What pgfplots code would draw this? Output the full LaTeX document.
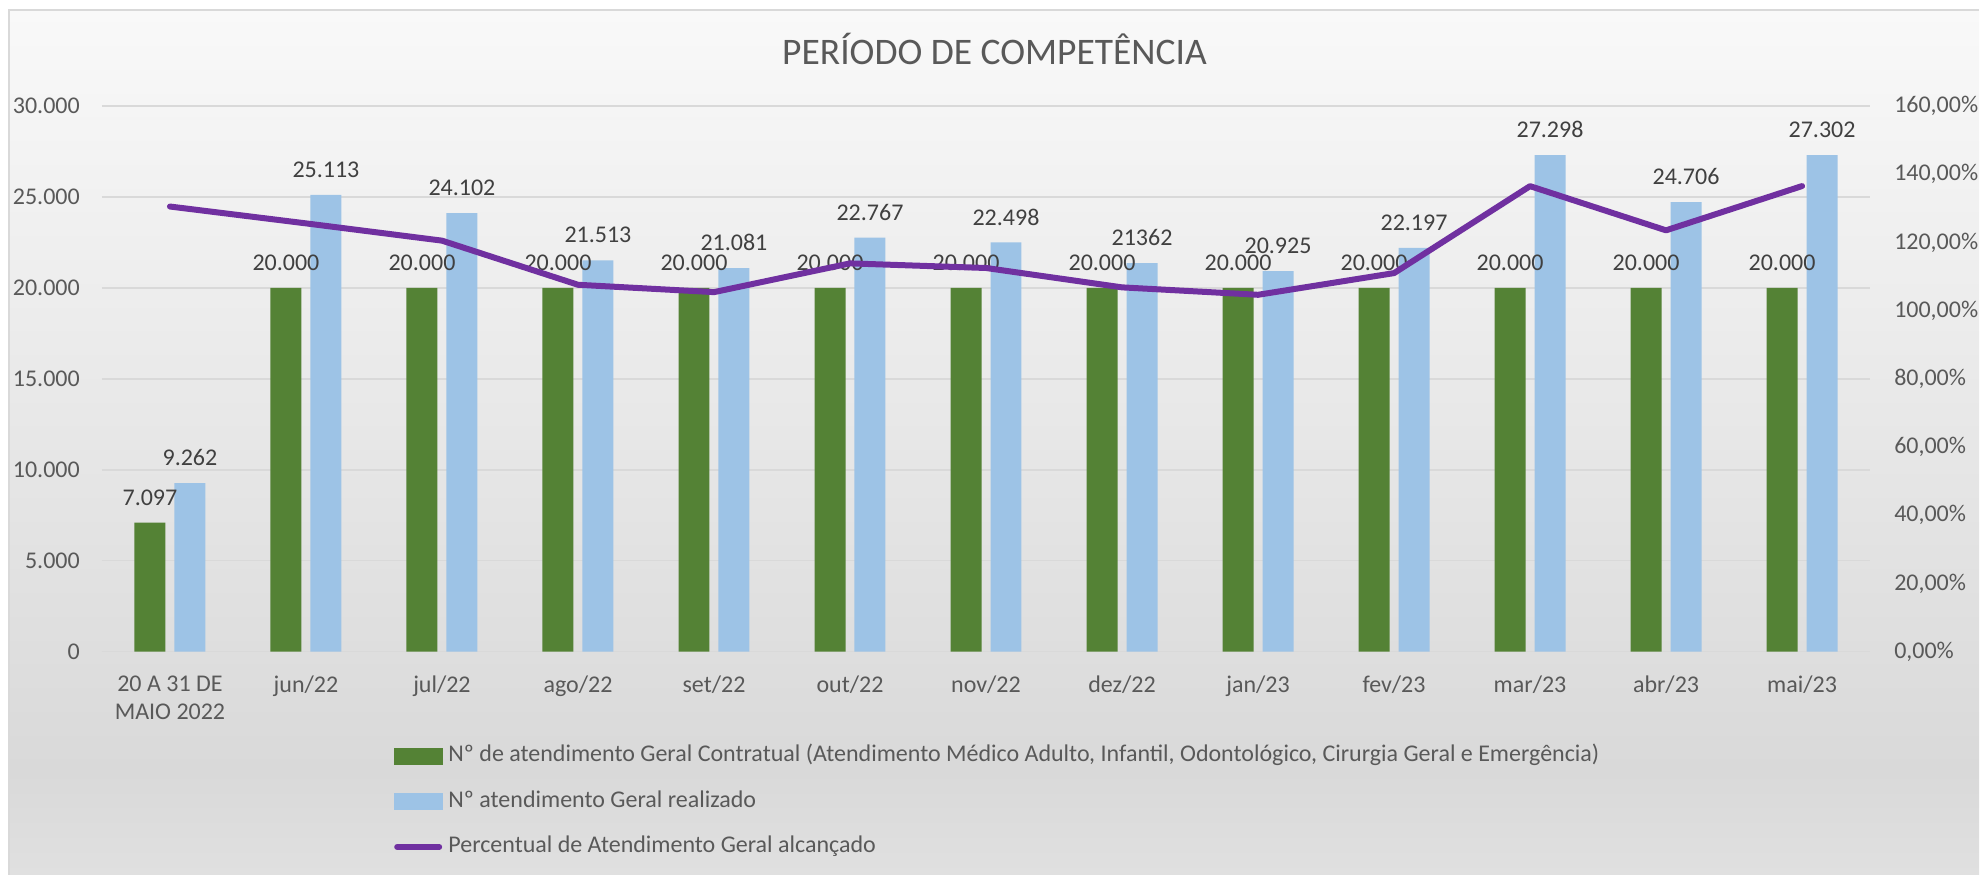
\documentclass[border=0pt]{standalone}
\usepackage{fontspec}
\setmainfont{Carlito}
\usepackage{pgfplots}
\pgfplotsset{compat=1.18}
\definecolor{cgreen}{HTML}{548235}
\definecolor{cblue}{HTML}{9DC3E6}
\definecolor{cpurple}{HTML}{7030A0}
\definecolor{ctext}{HTML}{595959}
\definecolor{clabel}{HTML}{404040}
\definecolor{cgrid}{HTML}{D9D9D9}
\definecolor{bgtop}{HTML}{F9F9F9}
\definecolor{bgmid}{HTML}{D9D9D9}
\definecolor{bgbot}{HTML}{E0E0E0}
\pgfdeclareverticalshading{bgshade}{100bp}{color(0bp)=(bgbot); color(25bp)=(bgbot); color(31bp)=(bgmid); color(75bp)=(bgtop); color(100bp)=(bgtop)}
\newcommand\fs{\fontsize{24}{28}\selectfont}
\begin{document}
\begin{tikzpicture}[x=1pt,y=1pt]
\path (0,0) rectangle (1980,875);
\shade[shading=bgshade] (9,0) rectangle (1980,865);
\draw[cgrid, line width=2pt] (9,0) -- (9,865) -- (1980,865);
\node[anchor=base, font=\fontsize{37.5}{44}\selectfont, text=ctext, inner sep=0pt] at (995,810) {PERÍODO DE COMPETÊNCIA};

\begin{axis}[at={(102pt,223pt)}, anchor=south west, scale only axis,
  width=1769pt, height=546pt,
  xmin=-0.5, xmax=12.5, ymin=0, ymax=30000,
  ybar=9pt, bar width=31pt, clip=false,
  axis line style={draw=none}, major tick length=0pt,
  ytick={0,5000,...,30000}, ymajorgrids, grid style={cgrid, line width=1.5pt},
  scaled y ticks=false,
  xtick={0,...,12},
  xticklabels={{20 A 31 DE\\MAIO 2022},jun/22,jul/22,ago/22,set/22,out/22,nov/22,dez/22,jan/23,fev/23,mar/23,abr/23,mai/23},
  xticklabel style={align=center, font=\fs, text=ctext, anchor=north, inner sep=0pt, yshift=-24pt,
    execute at begin node={\rule{0pt}{17pt}}},
  yticklabel style={font=\fs, text=ctext, anchor=east, inner sep=0pt, xshift=-22pt,
    /pgf/number format/1000 sep={.}, /pgf/number format/assume math mode=true},
  every node near coord/.append style={font=\fs, text=clabel, anchor=south, inner sep=0pt, yshift=17pt},
]
\addplot[fill=cgreen, draw=none, nodes near coords, point meta=explicit symbolic] table[meta=l] {
x y l
0 7097 7.097
1 20000 20.000
2 20000 20.000
3 20000 20.000
4 20000 20.000
5 20000 20.000
6 20000 20.000
7 20000 20.000
8 20000 20.000
9 20000 20.000
10 20000 20.000
11 20000 20.000
12 20000 20.000
};
\addplot[fill=cblue, draw=none, nodes near coords, point meta=explicit symbolic] table[meta=l] {
x y l
0 9262 9.262
1 25113 25.113
2 24102 24.102
3 21513 21.513
4 21081 21.081
5 22767 22.767
6 22498 22.498
7 21362 21362
8 20925 20.925
9 22197 22.197
10 27298 27.298
11 24706 24.706
12 27302 27.302
};
\end{axis}

\begin{axis}[at={(102pt,223pt)}, anchor=south west, scale only axis,
  width=1769pt, height=546pt,
  xmin=-0.5, xmax=12.5, ymin=0, ymax=160,
  axis x line=none, axis y line*=right, y axis line style={draw=none},
  major tick length=0pt, scaled y ticks=false,
  ytick={0,20,...,160},
  yticklabel={\pgfmathprintnumber[fixed,fixed zerofill,precision=2,use comma,assume math mode=true]{\tick}\%},
  yticklabel style={font=\fs, text=ctext, anchor=west, inner sep=0pt, xshift=24pt},
  legend cell align=left,
  legend style={at={(axis description cs:0.16507,-0.1711)}, anchor=north west, draw=none, fill=none,
    inner sep=0pt, row sep=24pt, /tikz/column sep=6pt, font=\fs, text=ctext,
    nodes={inner sep=0pt, text height=16.5pt, text depth=5pt}},
]
\addlegendimage{legend image code/.code={\fill[cgreen] (0pt,-8pt) rectangle (48pt,8pt);}}
\addlegendentry{Nº de atendimento Geral Contratual (Atendimento Médico Adulto, Infantil, Odontológico, Cirurgia Geral e Emergência)}
\addlegendimage{legend image code/.code={\fill[cblue] (0pt,-8pt) rectangle (48pt,8pt);}}
\addlegendentry{Nº atendimento Geral realizado}
\addplot[cpurple, line width=6pt, line join=round, line cap=round, mark=none,
  legend image code/.code={\draw[cpurple, line width=6pt, line cap=round] (3pt,0pt) -- (45pt,0pt);}] table {
x y
0 130.51
1 125.57
2 120.51
3 107.57
4 105.41
5 113.84
6 112.49
7 106.81
8 104.63
9 110.99
10 136.49
11 123.53
12 136.51
};
\addlegendentry{Percentual de Atendimento Geral alcançado}
\end{axis}
\end{tikzpicture}
\end{document}
